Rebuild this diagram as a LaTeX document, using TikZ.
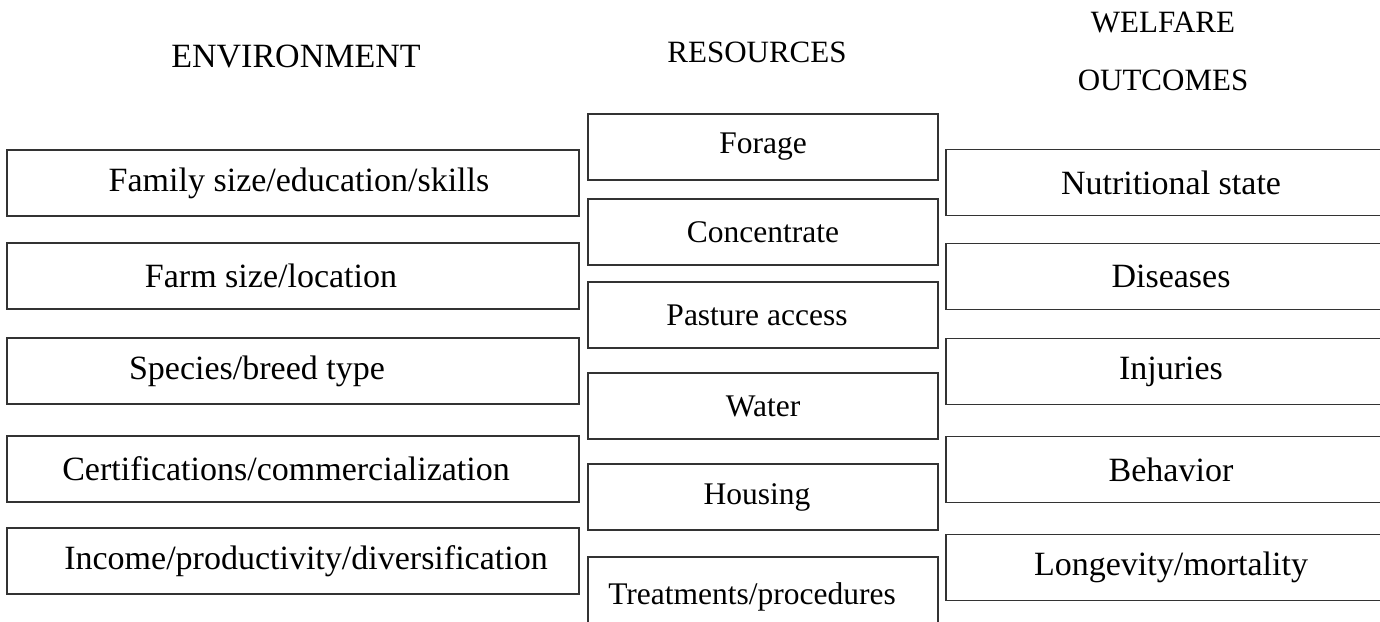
\documentclass[tikz,border=0pt]{standalone}
\usepackage{fontspec}
\setmainfont{Liberation Serif}
\usetikzlibrary{positioning}
\tikzset{envbox/.style={shape=rectangle, draw=black!80, line width=1.2pt,
    minimum width=572pt, minimum height=66pt, inner sep=0pt, outer sep=0pt,
    font=\fontsize{34}{38}\selectfont}}
\tikzset{resbox/.style={envbox, minimum width=350pt, font=\fontsize{31.5}{35}\selectfont}}
\tikzset{welbox/.style={envbox, minimum width=450pt}}
\tikzset{head/.style={font=\fontsize{31}{58}\selectfont, align=center}}

\begin{document}
\begin{tikzpicture}[x=1pt, y=-1pt, node distance=27pt]
    \useasboundingbox (0,0) rectangle (1380,621);

    % column titles
    \node(envhead) [head, font=\fontsize{34}{38}\selectfont] at (296,57) {ENVIRONMENT};
    \node(reshead) [head] at (757,52) {RESOURCES};
    \node(welhead) [head] at (1163,51) {WELFARE\\OUTCOMES};

    % environment
    \node(fam)[envbox] at (293,183) {\hspace*{12pt}Family size/education/skills};
    \node(farm)[envbox] [below=27pt of fam]  {Farm size/location\hspace*{44pt}};
    \node(spec)[envbox] [below=29pt of farm] {Species/breed type\hspace*{72pt}};
    \node(cert)[envbox] [below=32pt of spec] {Certifications/commercialization\hspace*{14pt}};
    \node(inc)[envbox]  [below=26pt of cert] {\hspace*{26pt}Income/productivity/diversification};

    % resources
    \node(forage)[resbox] at (763,147) {Forage};
    \node(conc)[resbox]  [below=19pt of forage] {Concentrate};
    \node(past)[resbox]  [below=17pt of conc]   {Pasture access\hspace*{12pt}};
    \node(water)[resbox] [below=25pt of past]   {Water};
    \node(hous)[resbox]  [below=25pt of water]  {Housing\hspace*{12pt}};
    \node(treat)[resbox, minimum height=80pt] [below=27pt of hous] {Treatments/procedures\hspace*{22pt}};

    % welfare outcomes
    \node(nutr)[welbox] at (1171,182.5) {Nutritional state};
    \node(dis)[welbox]    [below=28pt of nutr] {Diseases};
    \node(inj)[welbox]    [below=29pt of dis]  {Injuries};
    \node(beh)[welbox]    [below=32pt of inj]  {Behavior};
    \node(longev)[welbox] [below=32pt of beh]  {Longevity/mortality};

\end{tikzpicture}
\end{document}
